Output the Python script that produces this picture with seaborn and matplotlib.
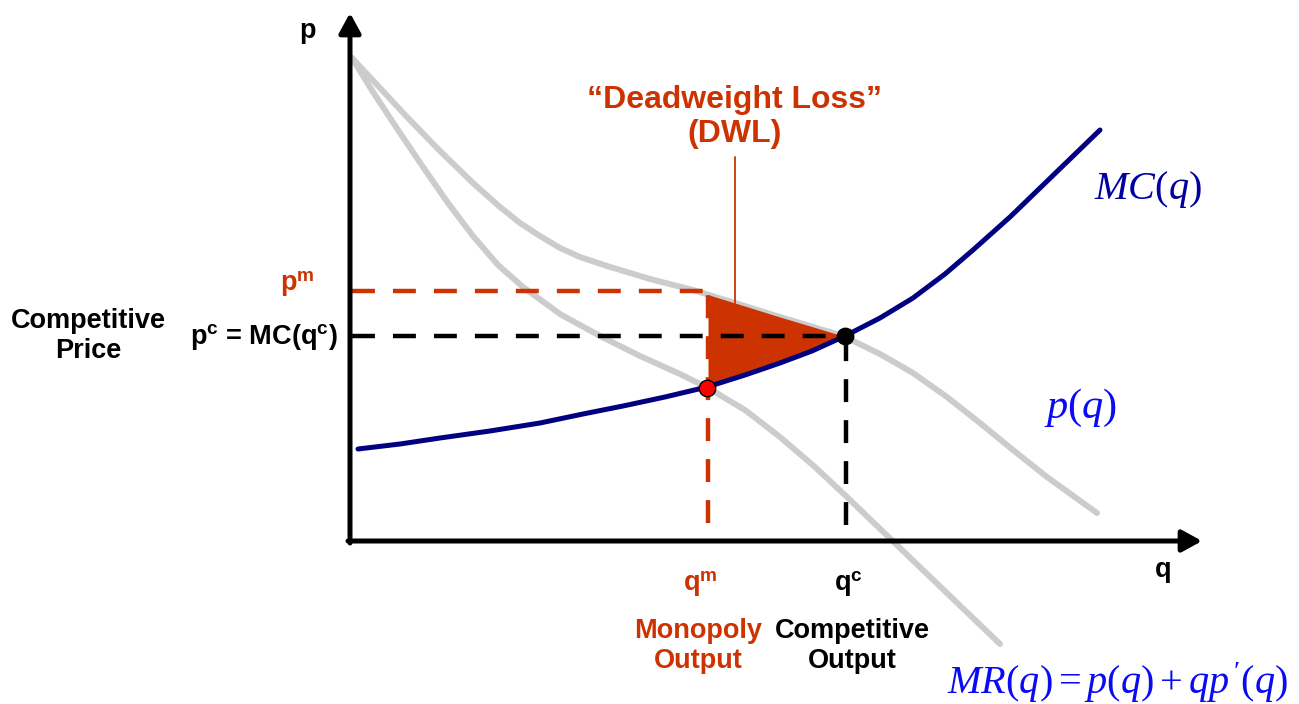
import numpy as np
import pandas as pd
import matplotlib
matplotlib.use("Agg")
import matplotlib.pyplot as plt
import seaborn as sns

# ---------------- data (q, p in diagram units) ----------------
demand_q = [2, 30, 57, 90, 123, 150, 170, 190, 210, 230, 257, 300, 343, 385, 430, 460, 493, 530, 563, 597, 630, 663, 697, 747]
demand_p = [483, 453, 424, 390, 358, 334, 318, 305, 293, 284, 275, 262, 251, 238, 224, 215, 205, 187, 168, 144, 118, 91, 64, 28]

mr_q = [2, 23, 48, 73, 98, 123, 148, 173, 210, 250, 290, 330, 358, 395, 430, 465, 497, 525, 550, 600, 650]
mr_p = [483, 449, 411, 374, 338, 305, 276, 254, 227, 205, 185, 167, 153, 131, 104, 74, 44, 17, -7, -55, -103]

mc_q = [8, 50, 90, 140, 190, 233, 273, 315, 357, 395, 430, 462, 495, 530, 563, 595, 623, 660, 690, 720, 750]
mc_p = [92, 97, 103, 110, 118, 127, 135, 144, 154, 166, 178, 190, 205, 223, 243, 267, 291, 324, 353, 382, 411]

q_m, p_m = 358, 250          # monopoly output / price
q_c, p_c = 495, 205          # competitive output / price
mono_point = [357, 153]      # MR = MC

RED = "#CC3300"
NAVY = "#000080"
GRAY = "#CCCCCC"

# ---------------- figure ----------------
sns.set_theme(style="white")
plt.rcParams["font.family"] = ["Liberation Sans", "DejaVu Sans"]
plt.rcParams["text.color"] = "black"
plt.rcParams["mathtext.fontset"] = "custom"
plt.rcParams["mathtext.bf"] = "Liberation Sans:bold"
plt.rcParams["mathtext.rm"] = "Liberation Serif"
plt.rcParams["mathtext.it"] = "Liberation Serif:italic"
plt.rcParams["lines.scale_dashes"] = False

fig = plt.figure(figsize=(12.99, 7.04), dpi=100)
ax = fig.add_axes([0, 0, 1, 1])
ax.set_xlim(-350, 949)
ax.set_ylim(-163, 541)
ax.axis("off")

df_d = pd.DataFrame({"q": demand_q, "p": demand_p})
df_mr = pd.DataFrame({"q": mr_q, "p": mr_p})
df_mc = pd.DataFrame({"q": mc_q, "p": mc_p})

sns.lineplot(data=df_d, x="q", y="p", sort=False, estimator=None, color=GRAY, linewidth=4.3, ax=ax, zorder=1)
sns.lineplot(data=df_mr, x="q", y="p", sort=False, estimator=None, color=GRAY, linewidth=4.3, ax=ax, zorder=1)

# Deadweight loss area
qq = np.linspace(q_m, q_c, 120)
upper = np.interp(qq, demand_q, demand_p)
lower = np.interp(qq, mc_q, mc_p)
ax.fill_between(qq, lower, upper, color=RED, linewidth=0, zorder=2)

# dashed guide lines
dash = (0, (16.5, 13))
ax.plot([2, q_m], [p_m, p_m], color=RED, lw=3.2, linestyle=dash, zorder=3)
ax.plot([q_m, q_m], [18, p_m], color=RED, lw=3.2, linestyle=dash, zorder=3)
ax.plot([2, q_c], [p_c, p_c], color="black", lw=3.2, linestyle=dash, zorder=3)
ax.plot([q_c + 1, q_c + 1], [16, p_c], color="black", lw=3.2, linestyle=dash, zorder=3)

sns.lineplot(data=df_mc, x="q", y="p", sort=False, estimator=None, color=NAVY, linewidth=3.6, ax=ax, zorder=4)

sns.scatterplot(x=[mono_point[0]], y=[mono_point[1]], color="red", edgecolor="black", linewidth=1, s=140, ax=ax, zorder=6)
sns.scatterplot(x=[q_c], y=[p_c], color="black", edgecolor="black", linewidth=1, s=140, ax=ax, zorder=6)

# axes with arrows
arrow = dict(arrowstyle="-|>,head_length=0.6,head_width=0.33", lw=3.6, color="black",
             shrinkA=0, shrinkB=0, mutation_scale=20)
ax.annotate("", xy=(0, 528), xytext=(0, -2), arrowprops=arrow, zorder=5)
ax.annotate("", xy=(852, 0), xytext=(-2, 0), arrowprops=arrow, zorder=5)

# DWL pointer line
ax.plot([385, 385], [238, 384], color=RED, lw=1.3, zorder=3)

# ---------------- text ----------------
bold = dict(fontweight="bold", fontsize=19.5, ha="center", va="center")
ax.text(-43, 510, "p", color="black", **bold)
ax.text(813, -29, "q", color="black", **bold)
ax.text(-53, 257, r"p$^{\mathbf{m}}$", color=RED, **bold)
ax.text(-12, 204, r"p$^{\mathbf{c}}$ = MC(q$^{\mathbf{c}}$)", color="black",
        fontweight="bold", fontsize=19.5, ha="right", va="center")
ax.text(-262, 205, "Competitive\nPrice", color="black", linespacing=1.2, **bold)
ax.text(350, -43, r"q$^{\mathbf{m}}$", color=RED, **bold)
ax.text(498, -43, r"q$^{\mathbf{c}}$", color="black", **bold)
ax.text(348, -105, "Monopoly\nOutput", color=RED, linespacing=1.2, **bold)
ax.text(502, -105, "Competitive\nOutput", color="black", linespacing=1.2, **bold)
ax.text(385, 424, "\u201cDeadweight Loss\u201d\n(DWL)", color=RED, fontweight="bold",
        fontsize=23, ha="center", va="center", linespacing=1.2)

ax.text(798, 351, r"$MC(q)$", color="#0000A0", fontsize=29, ha="center", va="center")
ax.text(731, 133, r"$p(q)$", color="#0A0AF5", fontsize=30.5, ha="center", va="center")
ax.text(767, -142, r"$MR(q) = p(q) + qp\,'(q)$", color="#0A0AF5", fontsize=29, ha="center", va="center")

fig.savefig("out.png", dpi=100)
